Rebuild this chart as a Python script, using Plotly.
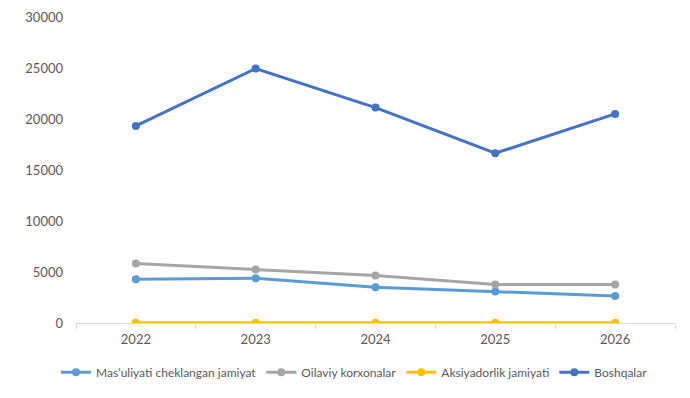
import plotly.graph_objects as go

years = ["2022", "2023", "2024", "2025", "2026"]
mchj = [4290, 4390, 3505, 3085, 2650]
oilaviy = [5835, 5245, 4655, 3770, 3770]
aksiyadorlik = [30, 30, 30, 30, 30]
boshqalar = [19320, 24950, 21120, 16640, 20500]

names = ["Mas\u2019uliyati cheklangan jamiyat", "Oilaviy korxonalar", "Aksiyadorlik jamiyati", "Boshqalar"]
colors = ["#5B9BD5", "#A5A5A5", "#FFC000", "#4472C4"]
series = [mchj, oilaviy, aksiyadorlik, boshqalar]

fig = go.Figure()
for n, c, s in zip(names, colors, series):
    fig.add_trace(go.Scatter(x=years, y=s, name=n, mode="lines+markers",
                             line=dict(color=c, width=3),
                             marker=dict(color=c, size=8)))

fig.update_layout(
    width=690, height=398,
    margin=dict(l=68, r=23, t=9, b=83, autoexpand=False),
    paper_bgcolor="white", plot_bgcolor="white",
    font=dict(family="Lato, Liberation Sans, sans-serif", size=12, color="#595959"),
    showlegend=True,
    legend=dict(orientation="h", x=0.465, xanchor="center", y=-0.161, yanchor="middle",
                itemwidth=30, font=dict(size=12, color="#595959"), tracegroupgap=0),
    hovermode=False,
)
fig.update_xaxes(type="category", range=[-0.5, 4.5], showline=True, linecolor="#D9D9D9", linewidth=1,
                 ticks="outside", tickson="boundaries", ticklen=5, tickcolor="#D9D9D9",
                 showgrid=False, zeroline=False, tickfont=dict(size=13), ticklabelstandoff=4)
fig.update_yaxes(range=[0, 30000], dtick=5000, tickformat="d", showgrid=False, zeroline=False,
                 showline=False, ticklabelstandoff=12, tickfont=dict(size=13))

fig.write_html("out.html")
